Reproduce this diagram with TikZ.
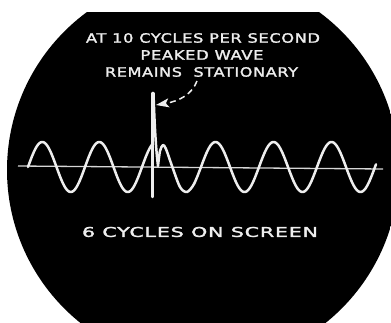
\documentclass[tikz,border=0pt]{standalone}
\usepackage{fontspec}
\usepackage{graphicx}
\usetikzlibrary{arrows.meta}
\newfontfamily\labelfont[LetterSpace=4,FakeBold=1.6]{DejaVu Sans}
\definecolor{trace}{RGB}{238,238,238}
\begin{document}
\begin{tikzpicture}[x=1pt,y=-1pt,
  wave/.style={draw=trace,line width=2.5pt,line join=round,line cap=round},
  axisline/.style={draw=trace!90!black,line width=1.3pt},
  lab/.style={text=trace,inner sep=0pt,outer sep=0pt,font=\labelfont},
  callout/.style={draw=trace,line width=1.5pt,dash pattern=on 6pt off 4pt,
    -{Stealth[length=13pt,width=9pt,inset=3pt,fill=trace]}}]
\useasboundingbox (0,0) rectangle (391,323);
\clip (0,0) rectangle (391,323);
\fill[white] (0,0) rectangle (391,323);
% screen
\begin{scope}
  \clip (203,170) circle[radius=196];
  \fill[black] (0,12) rectangle (391,323);
\end{scope}
% texts
\node[lab] (t1) at (203,38) {\resizebox{234pt}{9.5pt}{AT 10 CYCLES PER SECOND}};
\node[lab] (t2) at (202,55) {\resizebox{123pt}{9.5pt}{PEAKED WAVE}};
\node[lab] (t3) at (201.5,72) {\resizebox{193pt}{9.5pt}{REMAINS\ \ STATIONARY}};
\node[lab] (t4) at (200,232) {\resizebox{236pt}{10pt}{6 CYCLES ON SCREEN}};
% baseline
\coordinate (bl) at (18,166);
\coordinate (br) at (383,169);
\draw[axisline] (bl) -- (br);
% trace
\draw[wave] plot[domain=28:152,samples=150] (\x,{167-25*sin((\x-28)/57*360)});
\draw[wave] (152.5,93) -- (152.5,197);
\draw[wave] (153.5,93) .. controls (154.5,125) and (156,150) .. (158,166)
  -- plot[smooth] coordinates {(158,166) (160,151) (163,145) (166,149) (172,166) (180,187) (187,192) (194,184) (201,167)}
  -- plot[domain=201:376,samples=180] (\x,{167-25*sin((\x-201)/58*360)});
% callout arrow
\coordinate (arrstart) at (197,81);
\coordinate (spiketip) at (156,105);
\draw[callout] (arrstart) .. controls (192,94) and (180,101) .. (spiketip);
\end{tikzpicture}
\end{document}
